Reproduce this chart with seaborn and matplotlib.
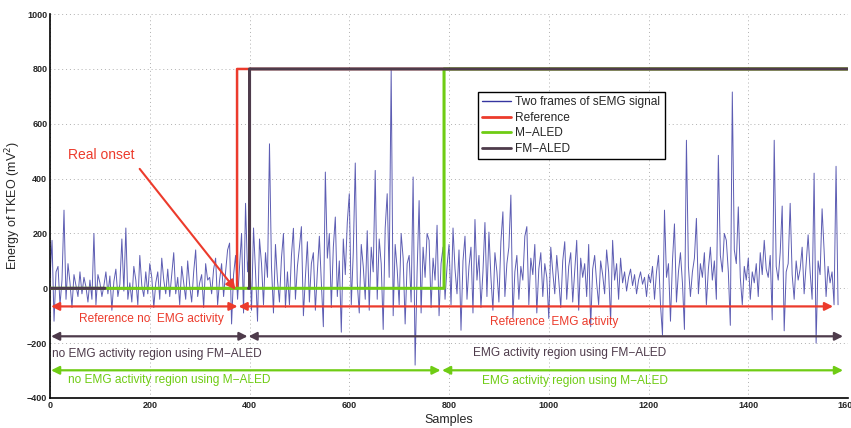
import numpy as np
import pandas as pd
import seaborn as sns
import matplotlib
matplotlib.use("Agg")
import matplotlib.pyplot as plt
from matplotlib.lines import Line2D

# ---------------- data ----------------
sample_step = 4
semg_tkeo = [
    40, 175, -120, 60, 80, -60, 30, 285, -40, 90, 20, -70, 50, 10, -30, 60, -20, 40, 5, -50,
    30, -40, 200, -60, 50, 20, -30, 10, 60, -20, 45, -80, 25, 70, -30, 15, 180, -10, 220, -40,
    20, -50, 80, 30, -60, 120, 10, -30, 60, -20, 90, 40, -70, 20, 60, -40, 110, 30, -20, 70,
    -30, 50, 130, -20, 40, -60, 80, 20, -40, 100, 10, -50, 60, 140, -30, 20, 50, -70, 90, 30,
    40, -20, 70, 110, -60, 30, 90, -30, 60, 140, 165, -130, 50, 120, -40, 80, 200, -90, 310, 60,
    150, -80, 220, 60, -120, 180, 90, -60, 130, 40, 527, 80, -90, 160, 30, -50, 110, 200, -70, 60,
    -60, 120, 219, -40, 80, 150, 225, -100, 40, 170, -50, 90, 130, -80, 60, 190, 20, -140, 424, 110,
    200, -70, 150, 260, -30, 100, -160, 180, 50, 240, 345, -60, 130, 457, 20, -90, 160, 80, -40, 210,
    -80, 150, 60, 430, -40, 180, 90, -150, 220, 345, 40, 800, -100, 160, 70, -60, 200, 110, -130, 90,
    120, -50, 406, -280, 60, 320, -90, 150, 40, 200, 175, -70, 110, 30, 230, -100, 90, 150, -40, 80,
    160, -60, 220, 70, -20, 140, -153, 100, 190, -40, 80, 150, -90, 251, 30, 120, -70, 60, 240, -30,
    205, 40, -80, 130, 60, -50, 170, 279, -30, 90, 150, 340, -110, 60, 120, -40, 80, 30, 190, 225,
    -60, 110, 50, 160, -90, 70, 130, -30, 90, 40, -110, 150, 60, -20, 120, 30, -70, 100, 170, -40,
    80, 130, -50, 60, 175, -80, 110, 40, 90, -30, 160, -140, 70, 120, 20, -60, 100, 50, -20, 140,
    60, -120, 175, 30, 90, -40, 110, 20, 60, -10, 40, 70, 10, 50, -20, 30, 60, 15, 40, -30,
    50, 20, 80, -40, 60, 120, -60, -171, 285, 40, 90, -120, 100, 235, -50, 60, 130, 20, -150, 540,
    80, -30, 60, 110, 255, -20, 90, 40, 130, -60, 70, 150, 30, 100, -40, 485, 120, 60, 200, 175,
    60, -135, 716, 140, 90, 297, 40, -60, 80, 30, 110, -40, 60, 20, 90, -30, 130, 50, 175, 70,
    40, 120, -115, 540, 80, 30, 130, 300, -155, 60, 90, 310, 50, -40, 100, 30, 70, 150, -20, 90,
    195, 60, -40, 420, -200, 100, 50, 290, 140, -30, 80, 20, 60, -60, 445, -60,
]
n_samples = 1600
ref_onset = 375
fm_onset = 400
m_onset = 790
step_high = 800
fm_hidden = (110, 398)   # part of FM-ALED's zero level hidden under the M-ALED line

x_ticks = [0, 200, 400, 600, 800, 1000, 1200, 1400, 1600]
y_ticks = [-400, -200, 0, 200, 400, 600, 800, 1000]

# region arrows: (start, end), level
ref_regions = [(2, 376), (378, 1570)]
ref_level = -66
fm_regions = [(2, 396), (398, 1590)]
fm_level = -175
m_regions = [(2, 783), (786, 1590)]
m_level = -299

# ---------------- colours ----------------
c_sig = "#3535a0"
c_ref = "#ec3b2c"
c_m = "#6fcc14"
c_fm = "#4e3b4b"

sns.set_theme(style="white")
plt.rcParams["font.family"] = ["Liberation Sans", "DejaVu Sans"]

fig = plt.figure(figsize=(8.51, 4.28), dpi=100)
ax = fig.add_axes([0.0588, 0.0701, 0.9377, 0.8969])

sig_df = pd.DataFrame({"Samples": np.arange(len(semg_tkeo)) * sample_step,
                       "Energy": semg_tkeo})
sns.lineplot(data=sig_df, x="Samples", y="Energy", ax=ax, color=c_sig,
             lw=0.7, alpha=0.8, zorder=2)

idx = np.arange(n_samples)
ref = np.where(idx >= ref_onset, step_high, 0).astype(float)
m_aled = np.where(idx >= m_onset, step_high, 0).astype(float)
fm_aled = np.where(idx >= fm_onset, step_high, 0).astype(float)
fm_draw = fm_aled.copy()
fm_draw[(idx >= fm_hidden[0]) & (idx < fm_hidden[1])] = np.nan

ax.plot(idx, ref, drawstyle="steps-post", color=c_ref, lw=1.8, zorder=3)
ax.plot(idx, m_aled, drawstyle="steps-post", color=c_m, lw=2.2, zorder=4)
ax.plot(idx, fm_draw, drawstyle="steps-post", color=c_fm, lw=2.2, zorder=5)

def region_arrows(regions, level, color):
    for a, b in regions:
        ax.annotate("", xy=(b, level), xytext=(a, level),
                    arrowprops=dict(arrowstyle="<|-|>", color=color, lw=1.6,
                                    mutation_scale=12, shrinkA=0, shrinkB=0),
                    zorder=6)

region_arrows(ref_regions, ref_level, c_ref)
region_arrows(fm_regions, fm_level, c_fm)
region_arrows(m_regions, m_level, c_m)

fs = 8.6
ax.text(203, -113, "Reference no  EMG activity", color=c_ref, ha="center", va="center", fontsize=fs)
ax.text(1010, -124, "Reference  EMG activity", color=c_ref, ha="center", va="center", fontsize=fs)
ax.text(4, -241, "no EMG activity region using FM\u2212ALED", color=c_fm, ha="left", va="center", fontsize=fs)
ax.text(1042, -236, "EMG activity region using FM\u2212ALED", color=c_fm, ha="center", va="center", fontsize=fs)
ax.text(239, -335, "no EMG activity region using M\u2212ALED", color=c_m, ha="center", va="center", fontsize=fs)
ax.text(1053, -339, "EMG activity region using M\u2212ALED", color=c_m, ha="center", va="center", fontsize=fs)

ax.annotate("Real onset", xy=(372, -5), xytext=(36, 485), color=c_ref, fontsize=10,
            ha="left", va="center",
            arrowprops=dict(arrowstyle="-|>", color=c_ref, lw=1.5, mutation_scale=14,
                            shrinkA=3, shrinkB=0, relpos=(1.0, 0.0)),
            zorder=7)

ax.set_xlim(0, 1600)
ax.set_ylim(-400, 1000)
ax.set_xticks(x_ticks)
ax.set_yticks(y_ticks)
ax.set_xticklabels([str(v) for v in x_ticks], fontsize=6.5, fontweight="bold")
ax.set_yticklabels([str(v).replace("-", "\u2212") for v in y_ticks], fontsize=6.5, fontweight="bold")
ax.tick_params(direction="in", length=5, width=1, color="black", pad=2)
ax.set_xlabel("Samples", fontsize=9, labelpad=3)
ax.set_ylabel("Energy of TKEO (mV$^2$)", fontsize=9, labelpad=3)
ax.grid(True, linestyle=(0, (1, 3)), color="#b0b0b0", lw=0.7)
for s in ["top", "right"]:
    ax.spines[s].set_visible(False)
for s in ["left", "bottom"]:
    ax.spines[s].set_color("black")
    ax.spines[s].set_linewidth(1.2)

handles = [Line2D([], [], color=c_sig, lw=1),
           Line2D([], [], color=c_ref, lw=2),
           Line2D([], [], color=c_m, lw=2),
           Line2D([], [], color=c_fm, lw=2)]
labels = ["Two frames of sEMG signal", "Reference", "M\u2212ALED", "FM\u2212ALED"]
leg = ax.legend(handles, labels, loc="upper left", bbox_to_anchor=(0.536, 0.797),
                fontsize=8.6, frameon=True, fancybox=False, framealpha=1,
                borderpad=0.35, labelspacing=0.3, handlelength=2.4, handletextpad=0.4,
                borderaxespad=0)
leg.get_frame().set_edgecolor("black")
leg.get_frame().set_linewidth(1.0)
leg.set_zorder(10)

fig.savefig("out.png", dpi=100)
